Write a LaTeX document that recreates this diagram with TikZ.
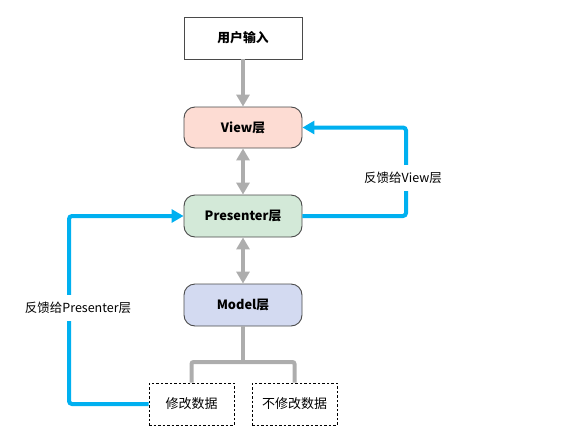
\documentclass[tikz,border=0pt]{standalone}
\usepackage{fontspec}
\setmainfont{Noto Sans CJK SC}
\usetikzlibrary{arrows.meta}
\definecolor{grayln}{HTML}{ADADAD}
\definecolor{blueln}{HTML}{00B0F0}
\definecolor{viewfill}{HTML}{FDDCD3}
\definecolor{presfill}{HTML}{D3E9D8}
\definecolor{modelfill}{HTML}{D3DAF1}
\definecolor{bordercol}{HTML}{4A4A4A}
\tikzset{
  plainbox/.style={draw=bordercol, line width=0.9pt, minimum width=118pt, minimum height=42pt, inner sep=0pt, font=\fontsize{12.8}{14}\selectfont\bfseries, fill=white},
  layerbox/.style={plainbox, rounded corners=11pt},
  databox/.style={draw=black, dashed, line width=0.8pt, dash pattern=on 2.5pt off 2pt, minimum width=85pt, minimum height=42pt, inner sep=0pt, font=\fontsize{13}{14}\selectfont, fill=white},
  grayarrow/.style={draw=grayln, line width=4pt, -{Triangle[length=12pt,width=13pt]}},
  graydouble/.style={draw=grayln, line width=4pt, {Triangle[length=12pt,width=13pt]}-{Triangle[length=12pt,width=13pt]}},
  grayline/.style={draw=grayln, line width=4pt, rounded corners=2pt},
  bluearrow/.style={draw=blueln, line width=4pt, rounded corners=3pt, -{Triangle[length=12pt,width=13pt]}},
  feedlabel/.style={fill=white, font=\fontsize{12.5}{14}\selectfont, inner xsep=2pt, inner ysep=7pt},
}
\begin{document}
\begin{tikzpicture}[x=1pt,y=-1pt]
\useasboundingbox (0,0) rectangle (580,442);
\node[plainbox] (input) at (243,38) {用户输入};
\node[layerbox, fill=viewfill, minimum height=41pt] (view) at (243,127.5) {View层};
\node[layerbox, fill=presfill] (pres) at (243,216) {Presenter层};
\node[layerbox, fill=modelfill] (model) at (243,305) {Model层};
\node[databox] (mod) at (191.5,404) {修改数据};
\node[databox] (nomod) at (294.5,404) {不修改数据};
\coordinate (bar) at (243,362);
\coordinate (rc) at (406,170);
\coordinate (lc) at (69,300);
\draw[grayarrow] (input) -- (view);
\draw[graydouble] (view) -- (pres);
\draw[graydouble] (pres) -- (model);
\draw[grayline] (model.south) -- (bar);
\draw[grayline] (mod.north) |- (bar) -| (nomod.north);
\draw[bluearrow] (pres.east) -| (rc) |- (view.east);
\draw[bluearrow] (mod.west) -| (lc) |- (pres.west);
\node[feedlabel] (lblv) at (403,178) {反馈给View层};
\node[feedlabel] (lblp) at (78,308) {反馈给Presenter层};
\end{tikzpicture}
\end{document}
